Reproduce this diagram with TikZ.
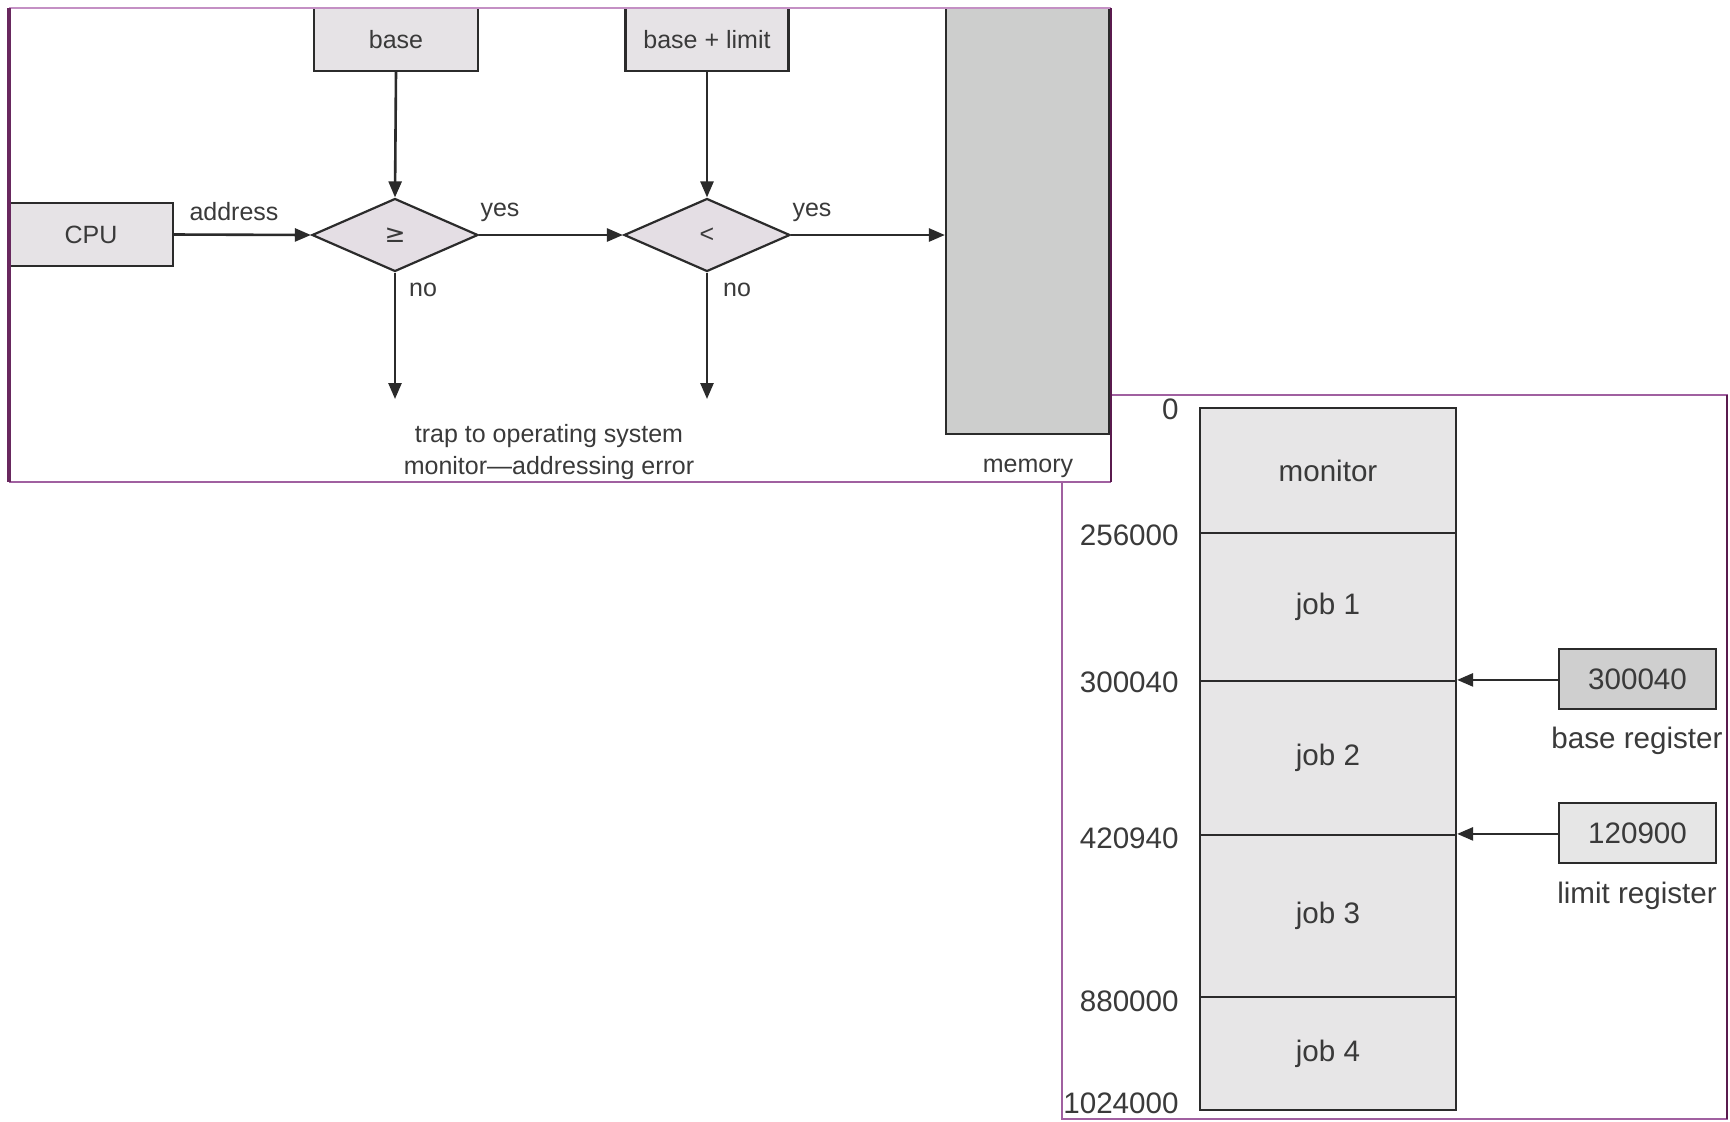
\documentclass[tikz,border=0pt]{standalone}
\usepackage{fontspec}
\setmainfont{Liberation Sans}
\newfontfamily\symfont{DejaVu Sans}
\usetikzlibrary{shapes.geometric,arrows.meta}

\definecolor{ink}{HTML}{2B2B2B}
\definecolor{txt}{HTML}{3A3A3A}
\definecolor{boxfill}{HTML}{E6E3E6}
\definecolor{diafill}{HTML}{E4DEE4}
\definecolor{memfill}{HTML}{CDCECD}
\definecolor{colfill}{HTML}{E7E6E7}
\definecolor{regdark}{HTML}{CFCFCF}
\definecolor{reglight}{HTML}{E6E6E6}
\definecolor{framelight}{HTML}{C490C4}
\definecolor{framemid}{HTML}{A060A0}
\definecolor{framedark}{HTML}{5A1A4E}

\tikzset{
  topfont/.style={font=\fontsize{12.5}{15}\selectfont},
  botfont/.style={font=\fontsize{14.8}{17}\selectfont},
  box/.style={draw=ink, line width=1.1pt, fill=boxfill, inner sep=0pt, text=txt, topfont},
  decision/.style={diamond, draw=ink, line width=1.1pt, fill=diafill, inner sep=0pt,
    minimum width=83pt, minimum height=36.5pt, text=txt, topfont},
  conn/.style={draw=ink, line width=1.3pt, -{Triangle[length=8pt,width=6.5pt]}},
  lbl/.style={text=txt, topfont, inner sep=0pt},
  seg/.style={draw=ink, line width=1.1pt, fill=colfill, inner sep=0pt, text=txt, botfont,
    minimum width=128pt},
  addr/.style={text=txt, botfont, inner sep=0pt, anchor=east},
  regbox/.style={draw=ink, line width=1.1pt, inner sep=0pt, text=txt, botfont,
    minimum width=78.5pt, minimum height=30pt},
  reglbl/.style={text=txt, botfont, inner sep=0pt}
}

\begin{document}
\begin{tikzpicture}[x=0.5pt,y=-0.5pt]
\useasboundingbox (0,0) rectangle (1730,1121);

% ---------- memory layout panel (lower right) ----------
\draw[framemid, line width=1pt, fill=white] (1062,395) rectangle (1727,1119);
\draw[framedark, line width=1.2pt] (1727,395) -- (1727,1119);

\node[seg, minimum height=62.5pt] (mon)  at (1328,470.5)  {monitor};
\node[seg, minimum height=74pt]   (job1) at (1328,607)    {job 1};
\node[seg, minimum height=77pt]   (job2) at (1328,758)    {job 2};
\node[seg, minimum height=81pt]   (job3) at (1328,916)    {job 3};
\node[seg, minimum height=56.5pt] (job4) at (1328,1053.5) {job 4};

\node[addr] (a0) at (1179,409)  {0};
\node[addr] (a1) at (1179,535)  {256000};
\node[addr] (a2) at (1179,682)  {300040};
\node[addr] (a3) at (1179,838)  {420940};
\node[addr] (a4) at (1179,1001) {880000};
\node[addr] (a5) at (1179,1103) {1024000};

\node[regbox, fill=regdark]  (breg) at (1637.5,679) {300040};
\node[regbox, fill=reglight] (lreg) at (1637.5,833) {120900};
\node[reglbl] (bregl) at (1637,741) {base register};
\node[reglbl] (lregl) at (1637,896) {limit register};

\draw[conn] (breg.west |- job2.north east) -- (job2.north east);
\draw[conn] (lreg.west |- job3.north east) -- (job3.north east);

% ---------- address checking panel (upper left) ----------
\fill[white] (9,8) rectangle (1111,482);

\node[box, minimum width=82pt, minimum height=31.5pt]   (base)   at (396,39.5)  {base};
\node[box, minimum width=81.5pt, minimum height=31.5pt] (baselim) at (707,39.5) {base + limit};
\node[box, minimum width=82pt, minimum height=31.5pt]   (cpu)    at (91,234.5)  {CPU};
\node[decision] (d1) at (395,235) {{\symfont ≥}};
\node[decision] (d2) at (707,235) {<};
\node[draw=ink, line width=1.1pt, fill=memfill, inner sep=0pt,
      minimum width=81.5pt, minimum height=213pt] (mem) at (1027.5,221) {};

\coordinate (t1) at (395,399);
\coordinate (t2) at (707,399);

\draw[conn] (base.south) -- (d1.north);
\draw[conn] (baselim.south) -- (d2.north);
\draw[conn] (cpu.east) -- (d1.west);
\draw[conn] (d1.east) -- (d2.west);
\draw[conn] (d2.east) -- (d2.east -| mem.west);
\draw[conn] (d1.south) -- (t1);
\draw[conn] (d2.south) -- (t2);

\node[lbl] (laddr) at (234,212) {address};
\node[lbl] (ly1)   at (500,212) {yes};
\node[lbl] (ly2)   at (812,212) {yes};
\node[lbl] (ln1)   at (423,290) {no};
\node[lbl] (ln2)   at (737,290) {no};
\node[lbl] (trap1) at (549,436) {trap to operating system};
\node[lbl] (trap2) at (549,468) {monitor—addressing error};
\node[lbl] (lmem)  at (1028,468) {memory};

% panel border
\draw[framelight, line width=1.2pt] (9,8) -- (1111,8);
\draw[framemid, line width=1pt] (9,482) -- (1111,482);
\draw[framedark!80!framemid, line width=1.6pt] (9,8) -- (9,482);
\draw[framedark, line width=1.4pt] (1111,8) -- (1111,482);
\end{tikzpicture}
\end{document}
